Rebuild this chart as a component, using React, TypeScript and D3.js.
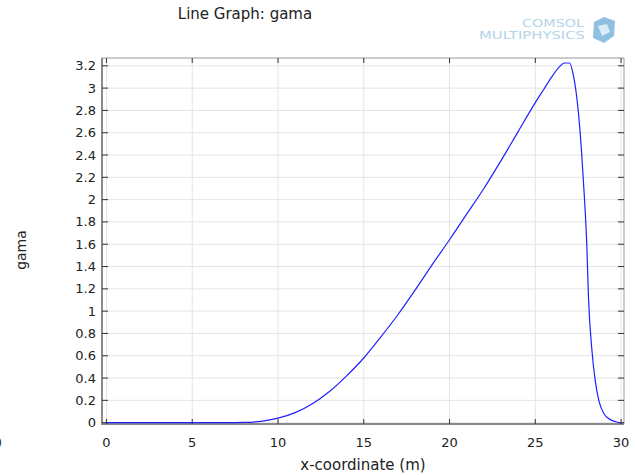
import React from "react";
import * as d3 from "d3";

const xValues = [0, 2, 4, 6, 7, 8, 9, 10, 11, 12, 13, 14, 15, 16, 17, 18, 19, 20, 21, 22, 23, 24, 25, 25.5, 26, 26.4, 26.7, 27.0, 27.2, 27.5, 27.7, 27.85, 28.0, 28.1, 28.3, 28.5, 28.7, 29.0, 29.4, 29.8, 30];
const gamaValues = [0, 0, 0, 0, 0, 0.002, 0.012, 0.04, 0.09, 0.17, 0.28, 0.42, 0.58, 0.77, 0.97, 1.19, 1.42, 1.64, 1.87, 2.1, 2.35, 2.61, 2.87, 2.99, 3.11, 3.19, 3.225, 3.225, 3.13, 2.8, 2.42, 2.05, 1.6, 1.12, 0.65, 0.37, 0.2, 0.08, 0.025, 0.004, 0];
const xTicks = [0, 5, 10, 15, 20, 25, 30];
const yTicks = [0, 0.2, 0.4, 0.6, 0.8, 1, 1.2, 1.4, 1.6, 1.8, 2, 2.2, 2.4, 2.6, 2.8, 3, 3.2];

const W = 635, H = 475;
const L = 102, R = 624, T = 58, B = 424;

export default function App() {
  const x = d3.scaleLinear().domain([-0.26, 30.17]).range([L, R]);
  const y = d3.scaleLinear().domain([-0.012, 3.27]).range([B, T]);
  const pts = xValues.map((v, i) => [v, gamaValues[i]] as [number, number]);
  const line = d3.line<[number, number]>().x(d => x(d[0])).y(d => y(d[1])).curve(d3.curveMonotoneX);
  const font = "'DejaVu Sans', Verdana, sans-serif";
  return (
    <svg width={W} height={H} style={{ position: "absolute", left: 0, top: 0 }} fontFamily={font}>
      <rect x={0} y={0} width={W} height={H} fill="#fff" />
      <text x={245} y={19} fontSize={15} textAnchor="middle" fill="#222">Line Graph: gama</text>
      {/* logo */}
      <g fill="#b3d4e8">
        <text x={522} y={27} fontSize={11} textLength={62} lengthAdjust="spacingAndGlyphs">COMSOL</text>
        <text x={479} y={39} fontSize={11} textLength={106} lengthAdjust="spacingAndGlyphs">MULTIPHYSICS</text>
        <path d="M594,22 L604,17 L615,21 L614,36 L604,43 L593,38 Z" fill="#8fc0df" />
        <path d="M598,26 L607,24 L610,32 L602,36 Z" fill="#d9ecf7" />
      </g>
      {/* grid */}
      {xTicks.map(t => (
        <line key={"gx" + t} x1={x(t)} x2={x(t)} y1={T} y2={B} stroke="#e4e4e4" strokeWidth={1} />
      ))}
      {yTicks.map(t => (
        <line key={"gy" + t} x1={L} x2={R} y1={y(t)} y2={y(t)} stroke="#e4e4e4" strokeWidth={1} />
      ))}
      {/* frame */}
      <line x1={L} x2={R} y1={T} y2={T} stroke="#999" strokeWidth={1} />
      <line x1={R} x2={R} y1={T} y2={B} stroke="#999" strokeWidth={1} />
      <line x1={L} x2={L} y1={T} y2={B + 1} stroke="#8a8a8a" strokeWidth={2} />
      <line x1={L - 1} x2={R} y1={B} y2={B} stroke="#8a8a8a" strokeWidth={2} />
      {/* ticks */}
      {xTicks.map(t => (
        <g key={"tx" + t}>
          <line x1={x(t)} x2={x(t)} y1={B} y2={B - 5} stroke="#333" strokeWidth={1} />
          <line x1={x(t)} x2={x(t)} y1={T} y2={T + 5} stroke="#333" strokeWidth={1} />
          <text x={x(t)} y={447} fontSize={13} textAnchor="middle" fill="#222">{t}</text>
        </g>
      ))}
      {yTicks.map(t => (
        <g key={"ty" + t}>
          <line x1={L} x2={L + 6} y1={y(t)} y2={y(t)} stroke="#333" strokeWidth={1} />
          <line x1={R} x2={R - 6} y1={y(t)} y2={y(t)} stroke="#333" strokeWidth={1} />
          <text x={96} y={y(t) + 4.5} fontSize={13} textAnchor="end" fill="#222">{String(t)}</text>
        </g>
      ))}
      <text x={(L + R) / 2} y={470} fontSize={15} textAnchor="middle" fill="#222">x-coordinate (m)</text>
      <text transform="translate(26,250) rotate(-90)" fontSize={14} textAnchor="middle" fill="#222">gama</text>
      <text x={-3} y={447} fontSize={13} fill="#222">)</text>
      <path d={line(pts) || ""} fill="none" stroke="#2020ff" strokeWidth={1.2} />
    </svg>
  );
}
